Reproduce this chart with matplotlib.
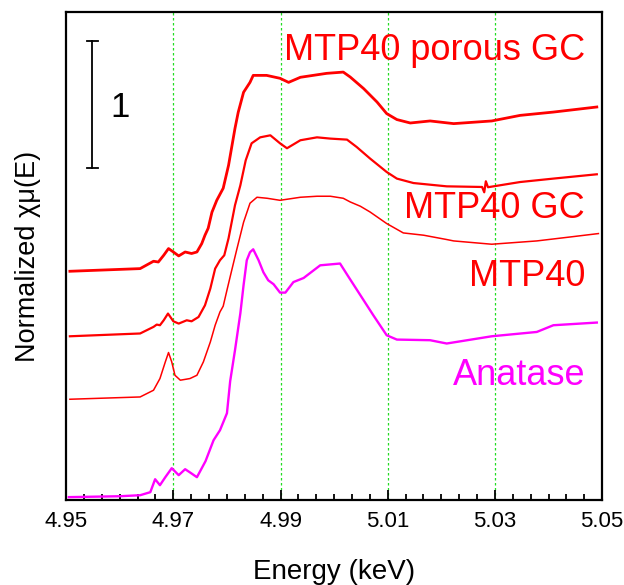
import numpy as np
import matplotlib
matplotlib.use("Agg")
import matplotlib.pyplot as plt

plt.rcParams['font.family'] = ['Liberation Sans', 'DejaVu Sans']

# Ti K-edge XANES, stacked with vertical offsets (y in normalized units)
e_anatase = [4.9505, 4.9600, 4.9638, 4.9657, 4.9666, 4.9675, 4.9685, 4.9697, 4.9710, 4.9722,
             4.9733, 4.9744, 4.9760, 4.9775, 4.9787, 4.9800, 4.9806, 4.9815, 4.9825, 4.9831,
             4.9837, 4.9843, 4.9849, 4.9859, 4.9868, 4.9877, 4.9887, 4.9899, 4.9909, 4.9924,
             4.9943, 4.9974, 5.0011, 5.0027, 5.0049, 5.0073, 5.0098, 5.0117, 5.0179, 5.0210,
             5.0294, 5.0378, 5.0409, 5.0490]
y_anatase = [0.024, 0.031, 0.039, 0.063, 0.165, 0.118, 0.181, 0.252, 0.197, 0.244,
             0.213, 0.181, 0.307, 0.472, 0.551, 0.685, 0.937, 1.181, 1.472, 1.693,
             1.890, 1.953, 1.976, 1.890, 1.795, 1.732, 1.701, 1.635, 1.635, 1.718,
             1.750, 1.850, 1.864, 1.758, 1.614, 1.457, 1.299, 1.265, 1.260, 1.234,
             1.291, 1.325, 1.378, 1.399]

e_mtp40 = [4.9507, 4.9638, 4.9663, 4.9675, 4.9685, 4.9691, 4.9697, 4.9703, 4.9713, 4.9731,
           4.9744, 4.9756, 4.9769, 4.9778, 4.9787, 4.9793, 4.9800, 4.9808, 4.9818, 4.9831,
           4.9843, 4.9856, 4.9875, 4.9899, 4.9937, 4.9968, 4.9993, 5.0017, 5.0030, 5.0049,
           5.0067, 5.0098, 5.0129, 5.0167, 5.0210, 5.0223, 5.0294, 5.0378, 5.0440, 5.0493]
y_mtp40 = [0.795, 0.813, 0.866, 0.958, 1.089, 1.163, 1.089, 0.984, 0.945, 0.958,
           0.984, 1.089, 1.246, 1.378, 1.483, 1.528, 1.654, 1.795, 1.969, 2.189,
           2.339, 2.386, 2.378, 2.362, 2.386, 2.394, 2.394, 2.378, 2.349, 2.315,
           2.270, 2.179, 2.105, 2.087, 2.053, 2.042, 2.016, 2.042, 2.073, 2.100]

e_gc = [4.9507, 4.9638, 4.9663, 4.9669, 4.9675, 4.9682, 4.9690, 4.9700, 4.9710, 4.9725,
        4.9734, 4.9747, 4.9759, 4.9769, 4.9778, 4.9787, 4.9795, 4.9803, 4.9815, 4.9825,
        4.9835, 4.9846, 4.9862, 4.9881, 4.9899, 4.9912, 4.9937, 4.9968, 4.9993, 5.0024,
        5.0042, 5.0067, 5.0098, 5.0117, 5.0148, 5.0210, 5.0276, 5.0280, 5.0283, 5.0287,
        5.0347, 5.0409, 5.0490]
y_gc = [1.291, 1.313, 1.365, 1.383, 1.378, 1.417, 1.470, 1.409, 1.391, 1.417,
        1.409, 1.443, 1.535, 1.667, 1.824, 1.890, 1.929, 2.063, 2.323, 2.480,
        2.677, 2.811, 2.858, 2.874, 2.811, 2.772, 2.835, 2.858, 2.848, 2.840,
        2.782, 2.691, 2.585, 2.533, 2.498, 2.472, 2.467, 2.425, 2.512, 2.465,
        2.506, 2.533, 2.567]

e_porous = [4.9507, 4.9638, 4.9663, 4.9672, 4.9682, 4.9691, 4.9700, 4.9710, 4.9722, 4.9734,
            4.9744, 4.9753, 4.9759, 4.9765, 4.9772, 4.9781, 4.9793, 4.9803, 4.9815, 4.9821,
            4.9831, 4.9843, 4.9849, 4.9874, 4.9899, 4.9915, 4.9937, 4.9986, 5.0017, 5.0030,
            5.0055, 5.0080, 5.0098, 5.0117, 5.0142, 5.0179, 5.0223, 5.0294, 5.0347, 5.0409,
            5.0490]
y_porous = [1.803, 1.824, 1.882, 1.876, 1.929, 1.982, 1.955, 1.924, 1.955, 1.943,
            1.955, 2.021, 2.087, 2.142, 2.268, 2.362, 2.457, 2.638, 2.929, 3.055,
            3.213, 3.291, 3.346, 3.346, 3.323, 3.291, 3.331, 3.362, 3.372, 3.333,
            3.242, 3.136, 3.045, 2.998, 2.971, 2.987, 2.966, 2.987, 3.031, 3.057,
            3.097]

guide_lines = [4.97, 4.99, 5.01, 5.03]
major_ticks = [4.95, 4.97, 4.99, 5.01, 5.03, 5.05]

fig = plt.figure(figsize=(6.24, 5.85), dpi=100)
ax = fig.add_axes([0.106, 0.145, 0.859, 0.834])

for xv in guide_lines:
    ax.axvline(xv, color='#22dd22', lw=0.9, ls=(0, (2, 2)), zorder=1)

ax.plot(e_anatase, y_anatase, color='#ff00ff', lw=1.7, zorder=3)
ax.plot(e_mtp40, y_mtp40, color='red', lw=1.1, zorder=3)
ax.plot(e_gc, y_gc, color='red', lw=1.6, zorder=3)
ax.plot(e_porous, y_porous, color='red', lw=2.0, zorder=3)

# scale bar of one normalized unit
bar_x = 4.9549
ax.plot([bar_x, bar_x], [2.614, 3.614], color='black', lw=1.3)
for yb in [2.614, 3.614]:
    ax.plot([bar_x - 0.0010, bar_x + 0.0010], [yb, yb], color='black', lw=1.3)
ax.text(4.9601, 3.09, '1', fontsize=25, ha='center', va='center')

ax.text(5.0468, 3.54, 'MTP40 porous GC', color='red', fontsize=26, ha='right', va='center')
ax.text(5.0468, 2.30, 'MTP40 GC', color='red', fontsize=26, ha='right', va='center')
ax.text(5.0468, 1.76, 'MTP40', color='red', fontsize=26, ha='right', va='center')
ax.text(5.0468, 0.98, 'Anatase', color='#ff00ff', fontsize=26, ha='right', va='center')

ax.set_xlim(4.95, 5.05)
ax.set_ylim(0, 3.843)
ax.set_xticks(major_ticks)
ax.set_xticklabels(['%.2f' % t for t in major_ticks])
ax.set_xticks(np.arange(4.95, 5.0501, 0.02 / 6), minor=True)
ax.set_yticks([])
ax.tick_params(axis='x', which='major', direction='in', length=7, width=1.3,
               labelsize=16, pad=8)
ax.tick_params(axis='x', which='minor', direction='in', length=4, width=1.3)
for sp in ax.spines.values():
    sp.set_linewidth(1.6)

ax.set_xlabel('Energy (keV)', fontsize=20, labelpad=19)
ax.set_ylabel('Normalized χμ(E)', fontsize=19.5, labelpad=18)

fig.savefig('out.png', dpi=100)
